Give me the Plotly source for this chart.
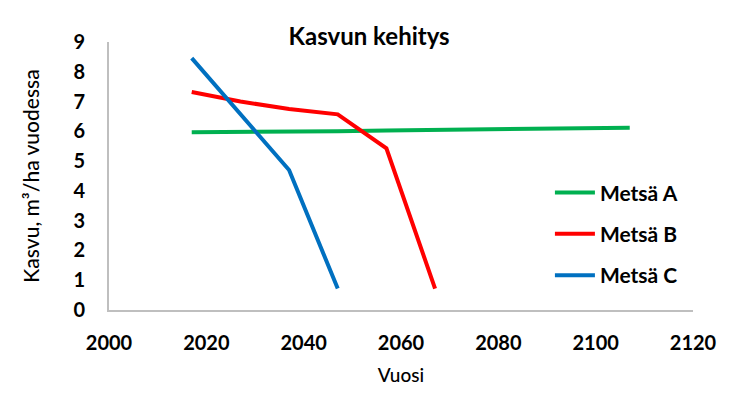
import plotly.graph_objects as go

# data
years_a = [2017, 2027, 2037, 2047, 2057, 2067, 2077, 2087, 2097, 2107]
kasvu_a = [5.97, 5.97, 5.98, 6.0, 6.03, 6.05, 6.07, 6.08, 6.09, 6.12]

years_b = [2017, 2027, 2037, 2047, 2057, 2067]
kasvu_b = [7.32, 7.0, 6.75, 6.57, 5.43, 0.72]

years_c = [2017, 2037, 2047]
kasvu_c = [8.46, 4.7, 0.72]

names = ['Metsä A', 'Metsä B', 'Metsä C']
colors = ['#00B050', '#FF0000', '#0070C0']

FONT = 'Lato'

fig = go.Figure()
for i, (x, y) in enumerate([(years_a, kasvu_a), (years_b, kasvu_b), (years_c, kasvu_c)]):
    fig.add_trace(go.Scatter(
        x=x, y=y, mode='lines', name=names[i], legendgroup=names[i],
        line=dict(color=colors[i], width=4),
    ))

# page body adds an 8px offset, margins compensate for it
fig.update_layout(
    width=734, height=415,
    margin=dict(l=101, r=49, t=34, b=113),
    plot_bgcolor='white', paper_bgcolor='white',
    title=dict(text='Kasvun kehitys', x=0.492, xanchor='center', y=0.93, yanchor='middle',
               font=dict(family=FONT, size=24, color='black', weight='bold')),
    showlegend=True,
    legend=dict(x=0.755, xanchor='left', y=0.284, yanchor='middle',
                font=dict(family=FONT, size=21, color='black', weight='bold'),
                itemwidth=40,
                traceorder='grouped', tracegroupgap=11, bgcolor='rgba(0,0,0,0)'),
    xaxis=dict(range=[2000, 2120], dtick=20, showgrid=False, zeroline=False,
               showline=True, linecolor='#BFBFBF', linewidth=2,
               ticks='', ticklabelstandoff=14,
               tickfont=dict(family=FONT, size=20, color='black', weight='bold'),
               title=dict(text='Vuosi', standoff=16,
                          font=dict(family=FONT, size=19, color='black', weight=500))),
    yaxis=dict(range=[0, 9], dtick=1, showgrid=False, zeroline=False,
               showline=True, linecolor='#BFBFBF', linewidth=2,
               ticks='', ticklabelstandoff=18,
               tickfont=dict(family=FONT, size=20, color='black', weight='bold'),
               title=dict(text='Kasvu, m³/ha vuodessa', standoff=28,
                          font=dict(family=FONT, size=21, color='black', weight=500))),
)

fig.write_html('out.html')
